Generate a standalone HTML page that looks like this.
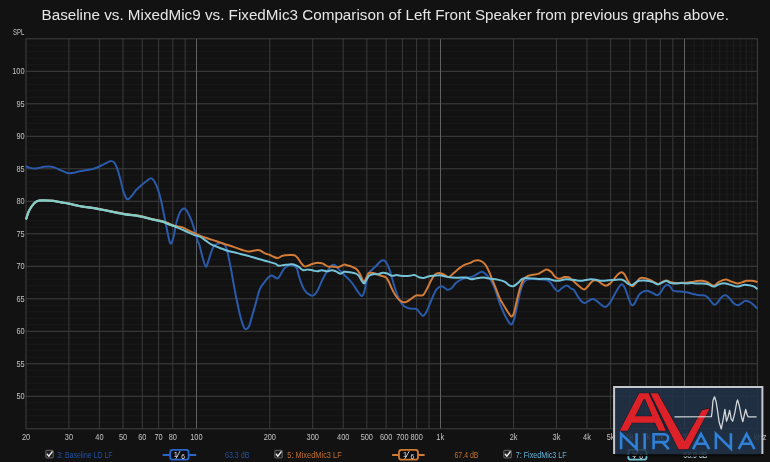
<!DOCTYPE html>
<html><head><meta charset="utf-8"><style>
html,body{margin:0;padding:0;background:#121212;width:770px;height:462px;overflow:hidden}
svg{display:block;will-change:transform}
.ax{font-family:"Liberation Sans",sans-serif;font-size:8.4px;fill:#c4c4c4}
.title{font-family:"Liberation Sans",sans-serif;font-size:15.5px;fill:#e6e6e6}
.lg{font-family:"Liberation Sans",sans-serif;font-size:10px}
</style></head><body>
<svg width="770" height="462" viewBox="0 0 770 462">
<rect width="770" height="462" fill="#121212"/>
<g stroke-width="1">
<line x1="25.99" y1="422.3" x2="757.39" y2="422.3" stroke="#1a1a1a"/>
<line x1="25.99" y1="415.8" x2="757.39" y2="415.8" stroke="#1a1a1a"/>
<line x1="25.99" y1="409.3" x2="757.39" y2="409.3" stroke="#1a1a1a"/>
<line x1="25.99" y1="402.8" x2="757.39" y2="402.8" stroke="#1a1a1a"/>
<line x1="25.99" y1="389.8" x2="757.39" y2="389.8" stroke="#1a1a1a"/>
<line x1="25.99" y1="383.3" x2="757.39" y2="383.3" stroke="#1a1a1a"/>
<line x1="25.99" y1="376.8" x2="757.39" y2="376.8" stroke="#1a1a1a"/>
<line x1="25.99" y1="370.3" x2="757.39" y2="370.3" stroke="#1a1a1a"/>
<line x1="25.99" y1="357.3" x2="757.39" y2="357.3" stroke="#1a1a1a"/>
<line x1="25.99" y1="350.8" x2="757.39" y2="350.8" stroke="#1a1a1a"/>
<line x1="25.99" y1="344.3" x2="757.39" y2="344.3" stroke="#1a1a1a"/>
<line x1="25.99" y1="337.8" x2="757.39" y2="337.8" stroke="#1a1a1a"/>
<line x1="25.99" y1="324.8" x2="757.39" y2="324.8" stroke="#1a1a1a"/>
<line x1="25.99" y1="318.3" x2="757.39" y2="318.3" stroke="#1a1a1a"/>
<line x1="25.99" y1="311.8" x2="757.39" y2="311.8" stroke="#1a1a1a"/>
<line x1="25.99" y1="305.3" x2="757.39" y2="305.3" stroke="#1a1a1a"/>
<line x1="25.99" y1="292.3" x2="757.39" y2="292.3" stroke="#1a1a1a"/>
<line x1="25.99" y1="285.8" x2="757.39" y2="285.8" stroke="#1a1a1a"/>
<line x1="25.99" y1="279.3" x2="757.39" y2="279.3" stroke="#1a1a1a"/>
<line x1="25.99" y1="272.8" x2="757.39" y2="272.8" stroke="#1a1a1a"/>
<line x1="25.99" y1="259.8" x2="757.39" y2="259.8" stroke="#1a1a1a"/>
<line x1="25.99" y1="253.3" x2="757.39" y2="253.3" stroke="#1a1a1a"/>
<line x1="25.99" y1="246.8" x2="757.39" y2="246.8" stroke="#1a1a1a"/>
<line x1="25.99" y1="240.3" x2="757.39" y2="240.3" stroke="#1a1a1a"/>
<line x1="25.99" y1="227.3" x2="757.39" y2="227.3" stroke="#1a1a1a"/>
<line x1="25.99" y1="220.8" x2="757.39" y2="220.8" stroke="#1a1a1a"/>
<line x1="25.99" y1="214.3" x2="757.39" y2="214.3" stroke="#1a1a1a"/>
<line x1="25.99" y1="207.8" x2="757.39" y2="207.8" stroke="#1a1a1a"/>
<line x1="25.99" y1="194.8" x2="757.39" y2="194.8" stroke="#1a1a1a"/>
<line x1="25.99" y1="188.3" x2="757.39" y2="188.3" stroke="#1a1a1a"/>
<line x1="25.99" y1="181.8" x2="757.39" y2="181.8" stroke="#1a1a1a"/>
<line x1="25.99" y1="175.3" x2="757.39" y2="175.3" stroke="#1a1a1a"/>
<line x1="25.99" y1="162.3" x2="757.39" y2="162.3" stroke="#1a1a1a"/>
<line x1="25.99" y1="155.8" x2="757.39" y2="155.8" stroke="#1a1a1a"/>
<line x1="25.99" y1="149.3" x2="757.39" y2="149.3" stroke="#1a1a1a"/>
<line x1="25.99" y1="142.8" x2="757.39" y2="142.8" stroke="#1a1a1a"/>
<line x1="25.99" y1="129.8" x2="757.39" y2="129.8" stroke="#1a1a1a"/>
<line x1="25.99" y1="123.3" x2="757.39" y2="123.3" stroke="#1a1a1a"/>
<line x1="25.99" y1="116.8" x2="757.39" y2="116.8" stroke="#1a1a1a"/>
<line x1="25.99" y1="110.3" x2="757.39" y2="110.3" stroke="#1a1a1a"/>
<line x1="25.99" y1="97.3" x2="757.39" y2="97.3" stroke="#1a1a1a"/>
<line x1="25.99" y1="90.8" x2="757.39" y2="90.8" stroke="#1a1a1a"/>
<line x1="25.99" y1="84.3" x2="757.39" y2="84.3" stroke="#1a1a1a"/>
<line x1="25.99" y1="77.8" x2="757.39" y2="77.8" stroke="#1a1a1a"/>
<line x1="25.99" y1="64.8" x2="757.39" y2="64.8" stroke="#1a1a1a"/>
<line x1="25.99" y1="58.3" x2="757.39" y2="58.3" stroke="#1a1a1a"/>
<line x1="25.99" y1="51.8" x2="757.39" y2="51.8" stroke="#1a1a1a"/>
<line x1="25.99" y1="45.3" x2="757.39" y2="45.3" stroke="#1a1a1a"/>
<line x1="694.09" y1="38.8" x2="694.09" y2="428.8" stroke="#202020"/>
<line x1="703.3" y1="38.8" x2="703.3" y2="428.8" stroke="#202020"/>
<line x1="711.78" y1="38.8" x2="711.78" y2="428.8" stroke="#202020"/>
<line x1="719.63" y1="38.8" x2="719.63" y2="428.8" stroke="#202020"/>
<line x1="726.93" y1="38.8" x2="726.93" y2="428.8" stroke="#202020"/>
<line x1="733.76" y1="38.8" x2="733.76" y2="428.8" stroke="#202020"/>
<line x1="740.18" y1="38.8" x2="740.18" y2="428.8" stroke="#202020"/>
<line x1="746.24" y1="38.8" x2="746.24" y2="428.8" stroke="#202020"/>
<line x1="751.96" y1="38.8" x2="751.96" y2="428.8" stroke="#202020"/>
<line x1="25.99" y1="396.3" x2="757.39" y2="396.3" stroke="#404040"/>
<line x1="25.99" y1="363.8" x2="757.39" y2="363.8" stroke="#404040"/>
<line x1="25.99" y1="331.3" x2="757.39" y2="331.3" stroke="#404040"/>
<line x1="25.99" y1="298.8" x2="757.39" y2="298.8" stroke="#404040"/>
<line x1="25.99" y1="266.3" x2="757.39" y2="266.3" stroke="#404040"/>
<line x1="25.99" y1="233.8" x2="757.39" y2="233.8" stroke="#404040"/>
<line x1="25.99" y1="201.3" x2="757.39" y2="201.3" stroke="#404040"/>
<line x1="25.99" y1="168.8" x2="757.39" y2="168.8" stroke="#404040"/>
<line x1="25.99" y1="136.3" x2="757.39" y2="136.3" stroke="#404040"/>
<line x1="25.99" y1="103.8" x2="757.39" y2="103.8" stroke="#404040"/>
<line x1="25.99" y1="71.3" x2="757.39" y2="71.3" stroke="#404040"/>
<line x1="68.92" y1="38.8" x2="68.92" y2="428.8" stroke="#3a3a3a"/>
<line x1="99.38" y1="38.8" x2="99.38" y2="428.8" stroke="#3a3a3a"/>
<line x1="123.01" y1="38.8" x2="123.01" y2="428.8" stroke="#3a3a3a"/>
<line x1="142.31" y1="38.8" x2="142.31" y2="428.8" stroke="#3a3a3a"/>
<line x1="158.63" y1="38.8" x2="158.63" y2="428.8" stroke="#3a3a3a"/>
<line x1="172.77" y1="38.8" x2="172.77" y2="428.8" stroke="#3a3a3a"/>
<line x1="185.24" y1="38.8" x2="185.24" y2="428.8" stroke="#3a3a3a"/>
<line x1="269.79" y1="38.8" x2="269.79" y2="428.8" stroke="#3a3a3a"/>
<line x1="312.72" y1="38.8" x2="312.72" y2="428.8" stroke="#3a3a3a"/>
<line x1="343.18" y1="38.8" x2="343.18" y2="428.8" stroke="#3a3a3a"/>
<line x1="366.81" y1="38.8" x2="366.81" y2="428.8" stroke="#3a3a3a"/>
<line x1="386.11" y1="38.8" x2="386.11" y2="428.8" stroke="#3a3a3a"/>
<line x1="402.43" y1="38.8" x2="402.43" y2="428.8" stroke="#3a3a3a"/>
<line x1="416.57" y1="38.8" x2="416.57" y2="428.8" stroke="#3a3a3a"/>
<line x1="429.04" y1="38.8" x2="429.04" y2="428.8" stroke="#3a3a3a"/>
<line x1="513.59" y1="38.8" x2="513.59" y2="428.8" stroke="#3a3a3a"/>
<line x1="556.52" y1="38.8" x2="556.52" y2="428.8" stroke="#3a3a3a"/>
<line x1="586.98" y1="38.8" x2="586.98" y2="428.8" stroke="#3a3a3a"/>
<line x1="610.61" y1="38.8" x2="610.61" y2="428.8" stroke="#3a3a3a"/>
<line x1="629.91" y1="38.8" x2="629.91" y2="428.8" stroke="#3a3a3a"/>
<line x1="646.23" y1="38.8" x2="646.23" y2="428.8" stroke="#3a3a3a"/>
<line x1="660.37" y1="38.8" x2="660.37" y2="428.8" stroke="#3a3a3a"/>
<line x1="672.84" y1="38.8" x2="672.84" y2="428.8" stroke="#3a3a3a"/>
<line x1="196.5" y1="38.8" x2="196.5" y2="428.8" stroke="#606060"/>
<line x1="440.5" y1="38.8" x2="440.5" y2="428.8" stroke="#606060"/>
<line x1="684.5" y1="38.8" x2="684.5" y2="428.8" stroke="#606060"/>
<rect x="25.99" y="38.8" width="731.4" height="390.0" fill="none" stroke="#404040"/>
</g>
<text transform="translate(24.6,399.4) scale(0.88,1)" text-anchor="end" class="ax">50</text>
<text transform="translate(24.6,366.9) scale(0.88,1)" text-anchor="end" class="ax">55</text>
<text transform="translate(24.6,334.4) scale(0.88,1)" text-anchor="end" class="ax">60</text>
<text transform="translate(24.6,301.9) scale(0.88,1)" text-anchor="end" class="ax">65</text>
<text transform="translate(24.6,269.4) scale(0.88,1)" text-anchor="end" class="ax">70</text>
<text transform="translate(24.6,236.9) scale(0.88,1)" text-anchor="end" class="ax">75</text>
<text transform="translate(24.6,204.4) scale(0.88,1)" text-anchor="end" class="ax">80</text>
<text transform="translate(24.6,171.9) scale(0.88,1)" text-anchor="end" class="ax">85</text>
<text transform="translate(24.6,139.4) scale(0.88,1)" text-anchor="end" class="ax">90</text>
<text transform="translate(24.6,106.9) scale(0.88,1)" text-anchor="end" class="ax">95</text>
<text transform="translate(24.6,74.4) scale(0.88,1)" text-anchor="end" class="ax">100</text>
<text transform="translate(13,34.6) scale(0.72,1)" class="ax">SPL</text>
<text transform="translate(26.0,439.6) scale(0.88,1)" text-anchor="middle" class="ax">20</text>
<text transform="translate(68.9,439.6) scale(0.88,1)" text-anchor="middle" class="ax">30</text>
<text transform="translate(99.4,439.6) scale(0.88,1)" text-anchor="middle" class="ax">40</text>
<text transform="translate(123.0,439.6) scale(0.88,1)" text-anchor="middle" class="ax">50</text>
<text transform="translate(142.3,439.6) scale(0.88,1)" text-anchor="middle" class="ax">60</text>
<text transform="translate(158.6,439.6) scale(0.88,1)" text-anchor="middle" class="ax">70</text>
<text transform="translate(172.8,439.6) scale(0.88,1)" text-anchor="middle" class="ax">80</text>
<text transform="translate(196.4,439.6) scale(0.88,1)" text-anchor="middle" class="ax">100</text>
<text transform="translate(269.8,439.6) scale(0.88,1)" text-anchor="middle" class="ax">200</text>
<text transform="translate(312.7,439.6) scale(0.88,1)" text-anchor="middle" class="ax">300</text>
<text transform="translate(343.2,439.6) scale(0.88,1)" text-anchor="middle" class="ax">400</text>
<text transform="translate(366.8,439.6) scale(0.88,1)" text-anchor="middle" class="ax">500</text>
<text transform="translate(386.1,439.6) scale(0.88,1)" text-anchor="middle" class="ax">600</text>
<text transform="translate(402.4,439.6) scale(0.88,1)" text-anchor="middle" class="ax">700</text>
<text transform="translate(416.6,439.6) scale(0.88,1)" text-anchor="middle" class="ax">800</text>
<text transform="translate(440.2,439.6) scale(0.88,1)" text-anchor="middle" class="ax">1k</text>
<text transform="translate(513.6,439.6) scale(0.88,1)" text-anchor="middle" class="ax">2k</text>
<text transform="translate(556.5,439.6) scale(0.88,1)" text-anchor="middle" class="ax">3k</text>
<text transform="translate(587.0,439.6) scale(0.88,1)" text-anchor="middle" class="ax">4k</text>
<text transform="translate(610.6,439.6) scale(0.88,1)" text-anchor="middle" class="ax">5k</text>
<text transform="translate(629.9,439.6) scale(0.88,1)" text-anchor="middle" class="ax">6k</text>
<text transform="translate(646.2,439.6) scale(0.88,1)" text-anchor="middle" class="ax">7k</text>
<text transform="translate(660.4,439.6) scale(0.88,1)" text-anchor="middle" class="ax">8k</text>
<text transform="translate(684.0,439.6) scale(0.88,1)" text-anchor="middle" class="ax">10k</text>
<text transform="translate(760,439.6) scale(0.88,1)" text-anchor="middle" class="ax">kHz</text>
<text x="41.5" y="19.7" class="title" textLength="687.5" lengthAdjust="spacingAndGlyphs">Baseline vs. MixedMic9 vs. FixedMic3 Comparison of Left Front Speaker from previous graphs above.</text>
<g fill="none" stroke-width="2" stroke-linejoin="round" stroke-linecap="round">
<path d="M26.3,166.4 C26.9,166.7 28.7,167.5 30.1,167.9 C31.5,168.3 33.1,168.6 34.6,168.6 C36.1,168.6 37.7,168.2 39.2,167.9 C40.7,167.6 42.1,167.1 43.7,166.8 C45.3,166.6 47.2,166.3 49.0,166.4 C50.8,166.5 52.4,166.8 54.3,167.4 C56.2,168.0 58.4,169.3 60.4,170.2 C62.4,171.1 64.9,172.2 66.4,172.7 C67.9,173.2 68.2,173.2 69.5,173.2 C70.8,173.2 72.2,173.0 74.0,172.7 C75.8,172.4 77.7,171.6 80.0,171.2 C82.3,170.8 85.1,170.5 87.6,170.0 C90.1,169.5 92.7,169.1 95.2,168.2 C97.7,167.3 100.6,165.8 102.7,164.8 C104.8,163.8 106.6,162.7 108.0,162.1 C109.4,161.5 110.0,161.0 111.0,161.1 C112.0,161.2 113.1,161.2 114.1,162.4 C115.1,163.6 116.1,165.5 117.1,168.2 C118.1,170.9 119.2,175.0 120.2,178.8 C121.2,182.6 122.2,187.7 123.2,190.9 C124.2,194.1 125.4,196.8 126.2,198.2 C127.0,199.6 127.3,199.5 128.2,199.2 C129.1,198.9 130.2,197.7 131.5,196.2 C132.8,194.7 134.6,191.8 136.0,190.2 C137.4,188.6 138.9,187.4 140.0,186.4 C141.1,185.4 141.6,184.9 142.8,183.9 C144.0,182.9 145.8,181.6 147.1,180.7 C148.4,179.8 149.8,178.3 150.9,178.3 C152.1,178.3 152.9,179.0 154.0,180.7 C155.1,182.3 156.3,184.9 157.5,188.2 C158.7,191.5 159.8,195.5 161.0,200.3 C162.2,205.1 163.2,211.2 164.4,216.8 C165.6,222.4 166.9,229.6 167.9,234.1 C168.9,238.6 169.6,243.0 170.5,243.6 C171.4,244.2 172.4,241.1 173.4,237.5 C174.4,233.9 175.4,226.3 176.6,222.0 C177.8,217.7 179.1,213.9 180.4,211.6 C181.7,209.3 183.2,208.3 184.4,208.4 C185.6,208.5 186.7,210.4 187.8,212.4 C189.0,214.4 190.2,217.2 191.3,220.2 C192.5,223.2 193.6,227.1 194.7,230.6 C195.8,234.1 196.9,238.7 197.7,241.0 C198.5,243.3 198.5,241.8 199.3,244.5 C200.1,247.2 201.5,253.8 202.6,257.5 C203.7,261.2 204.8,266.2 205.8,266.7 C206.8,267.2 207.6,263.1 208.5,260.7 C209.4,258.3 210.3,254.5 211.2,252.1 C212.1,249.7 212.8,247.5 213.9,246.1 C215.0,244.7 216.4,244.4 217.7,243.9 C219.0,243.4 220.3,242.7 221.5,242.9 C222.7,243.1 223.9,243.8 224.8,245.0 C225.7,246.2 226.2,247.5 226.9,249.9 C227.6,252.3 228.4,256.2 229.1,259.6 C229.8,263.0 230.5,266.4 231.3,270.5 C232.1,274.6 232.7,279.2 233.7,284.4 C234.7,289.6 235.9,296.3 237.1,301.8 C238.2,307.3 239.4,313.0 240.6,317.3 C241.8,321.6 243.1,325.7 244.0,327.7 C244.9,329.7 245.2,329.4 246.1,329.1 C247.0,328.8 248.1,328.5 249.2,326.0 C250.3,323.5 251.5,317.9 252.7,313.9 C253.9,309.9 255.0,305.9 256.2,301.8 C257.4,297.8 258.3,292.8 259.6,289.6 C260.9,286.4 262.6,284.7 264.0,282.7 C265.4,280.7 267.0,278.7 268.3,277.5 C269.6,276.3 270.7,275.4 271.8,275.4 C272.9,275.4 274.2,277.0 275.2,277.5 C276.2,278.0 276.9,278.8 277.8,278.4 C278.7,278.0 279.4,276.5 280.4,274.9 C281.4,273.3 282.8,270.3 283.9,268.9 C285.0,267.5 286.4,266.9 287.3,266.3 C288.2,265.7 288.2,265.4 289.3,265.3 C290.4,265.2 292.4,265.3 293.7,265.8 C295.0,266.3 296.1,266.9 296.9,268.5 C297.7,270.1 298.0,273.2 298.7,275.4 C299.4,277.6 300.0,279.7 300.8,281.9 C301.6,284.1 302.6,286.7 303.5,288.4 C304.4,290.1 305.2,291.1 306.2,292.2 C307.2,293.2 308.5,294.1 309.5,294.7 C310.5,295.3 311.3,295.9 312.2,295.8 C313.1,295.8 313.9,295.4 314.9,294.4 C315.9,293.3 317.0,291.6 318.1,289.5 C319.2,287.4 320.3,284.2 321.4,281.9 C322.5,279.5 323.5,277.4 324.6,275.4 C325.8,273.3 327.0,271.4 328.3,269.6 C329.6,267.8 331.3,265.4 332.6,264.8 C333.9,264.2 334.8,265.0 335.9,265.8 C337.0,266.6 337.9,268.2 339.1,269.6 C340.4,271.0 341.9,272.6 343.4,274.0 C344.8,275.4 346.4,276.8 347.8,278.3 C349.2,279.8 350.6,280.9 352.1,283.0 C353.7,285.1 355.7,288.6 357.1,290.6 C358.5,292.6 359.4,294.0 360.3,294.9 C361.2,295.8 361.6,296.5 362.3,295.8 C363.0,295.1 363.8,293.5 364.5,290.9 C365.2,288.3 366.0,283.3 366.8,280.3 C367.6,277.3 368.2,274.5 369.1,272.7 C370.0,270.9 370.8,270.9 372.1,269.7 C373.4,268.4 375.3,266.6 376.7,265.2 C378.1,263.8 379.4,262.2 380.5,261.4 C381.6,260.6 382.5,260.1 383.5,260.3 C384.5,260.6 385.5,261.3 386.5,262.9 C387.5,264.5 388.5,266.8 389.5,269.7 C390.5,272.6 391.6,276.9 392.6,280.3 C393.6,283.7 394.5,286.9 395.6,290.2 C396.7,293.5 398.0,297.4 399.4,300.0 C400.8,302.6 402.4,304.7 403.9,306.1 C405.4,307.5 407.0,307.9 408.5,308.3 C410.0,308.8 411.6,308.7 413.0,308.8 C414.4,308.9 415.7,308.4 416.8,309.1 C417.9,309.8 418.8,311.8 419.8,312.9 C420.8,314.0 421.9,315.9 422.9,315.9 C423.9,315.9 424.9,314.5 425.9,312.9 C426.9,311.3 427.8,308.8 428.9,306.1 C430.0,303.5 431.4,299.8 432.7,297.0 C434.0,294.2 435.0,291.2 436.5,289.4 C438.0,287.6 440.1,286.1 441.9,286.2 C443.7,286.2 445.5,289.3 447.1,289.7 C448.7,290.1 450.1,289.4 451.5,288.3 C452.9,287.2 454.2,284.6 455.8,283.1 C457.4,281.7 459.3,280.5 461.0,279.6 C462.7,278.7 464.5,278.3 466.2,277.9 C467.9,277.5 469.7,277.6 471.4,277.0 C473.1,276.4 474.9,275.3 476.6,274.4 C478.3,273.5 480.2,271.8 481.8,271.8 C483.4,271.8 484.7,273.1 486.1,274.4 C487.5,275.7 489.0,277.3 490.4,279.6 C491.8,281.9 493.3,284.9 494.7,288.3 C496.1,291.7 497.3,296.4 498.5,299.8 C499.7,303.2 500.8,305.8 501.9,308.5 C503.0,311.2 504.2,314.0 505.4,316.3 C506.6,318.6 507.9,321.0 508.9,322.3 C509.9,323.6 510.6,324.8 511.5,324.4 C512.4,324.0 513.1,322.3 514.0,319.7 C514.9,317.1 515.7,312.4 516.6,308.5 C517.5,304.6 518.3,300.0 519.2,296.4 C520.1,292.8 520.9,289.3 521.8,286.8 C522.7,284.3 523.4,282.8 524.4,281.6 C525.4,280.4 526.4,279.8 527.9,279.4 C529.4,279.0 531.1,279.0 533.1,279.0 C535.1,279.0 537.8,279.2 540.0,279.4 C542.2,279.5 544.4,279.4 546.1,279.9 C547.8,280.4 549.0,281.1 550.4,282.5 C551.8,283.9 553.4,287.2 554.7,288.6 C556.0,290.1 556.9,291.4 558.2,291.2 C559.5,291.0 561.0,288.6 562.5,287.7 C564.0,286.8 565.4,285.5 566.9,285.6 C568.4,285.8 570.0,287.9 571.2,288.6 C572.4,289.3 572.8,288.6 573.9,289.9 C575.0,291.2 576.5,294.4 577.8,296.4 C579.1,298.3 580.5,300.5 581.7,301.6 C582.9,302.7 583.7,303.0 584.9,302.9 C586.1,302.8 587.5,301.5 588.8,300.9 C590.1,300.2 591.4,299.0 592.7,299.0 C594.0,299.0 595.2,299.9 596.6,300.9 C598.0,301.9 599.8,303.8 601.2,304.8 C602.6,305.8 603.8,307.1 605.1,307.0 C606.4,306.9 607.7,305.8 609.0,304.2 C610.3,302.6 611.6,300.0 612.9,297.7 C614.2,295.4 615.5,292.6 616.8,290.5 C618.1,288.4 619.6,285.9 620.6,284.9 C621.6,283.9 621.8,284.1 622.6,284.7 C623.4,285.3 624.2,286.4 625.2,288.6 C626.2,290.8 627.4,295.1 628.4,297.7 C629.4,300.3 630.2,302.9 631.0,304.2 C631.8,305.4 632.2,305.6 633.0,305.2 C633.8,304.8 634.6,303.3 635.6,301.6 C636.6,299.9 637.6,296.7 638.8,295.1 C640.0,293.5 641.4,292.5 642.7,291.8 C644.0,291.1 645.6,290.9 646.6,290.8 C647.6,290.7 647.9,290.8 648.9,291.2 C649.9,291.6 651.4,292.4 652.8,293.1 C654.2,293.8 656.0,295.4 657.3,295.3 C658.6,295.2 659.5,293.8 660.6,292.5 C661.7,291.2 662.7,288.6 663.8,287.3 C664.9,286.0 666.0,284.8 667.1,284.7 C668.2,284.6 669.3,285.6 670.3,286.6 C671.3,287.6 671.7,289.7 672.9,290.5 C674.1,291.3 675.9,291.2 677.5,291.4 C679.1,291.6 681.0,291.6 682.7,291.8 C684.4,292.0 686.2,292.1 687.9,292.5 C689.6,292.9 691.4,293.6 693.1,294.0 C694.8,294.4 696.5,294.9 698.2,295.1 C699.9,295.3 701.9,295.0 703.4,295.3 C704.9,295.6 706.0,295.9 707.3,297.0 C708.6,298.1 710.0,300.3 711.2,301.6 C712.4,302.9 713.4,304.7 714.5,304.8 C715.6,304.9 716.6,303.5 717.8,302.2 C719.0,300.9 720.4,298.1 721.7,297.0 C723.0,295.9 724.3,295.1 725.6,295.3 C726.9,295.5 728.2,297.0 729.5,298.3 C730.8,299.6 732.1,301.8 733.4,302.9 C734.7,304.0 736.0,305.1 737.3,305.2 C738.6,305.3 739.9,304.2 741.2,303.5 C742.5,302.8 743.8,301.2 745.1,300.9 C746.4,300.6 747.7,301.1 749.0,301.6 C750.3,302.2 751.6,303.1 752.9,304.2 C754.2,305.3 756.1,307.5 756.8,308.1" stroke="#2a5aaa"/>
<path d="M26.3,218.6 C26.7,217.5 27.6,214.0 28.5,212.0 C29.4,210.0 30.5,208.1 31.6,206.5 C32.8,204.9 34.1,203.2 35.4,202.2 C36.7,201.2 37.3,200.9 39.2,200.6 C41.1,200.3 44.4,200.5 46.7,200.5 C49.0,200.5 50.5,200.5 52.8,200.8 C55.1,201.1 57.6,201.7 60.4,202.2 C63.2,202.7 66.7,203.2 69.5,203.8 C72.3,204.4 74.6,205.0 77.0,205.5 C79.4,206.0 81.0,206.3 84.0,206.8 C87.0,207.3 90.8,207.6 95.2,208.3 C99.6,209.0 105.2,210.2 110.3,211.2 C115.3,212.1 121.4,213.4 125.5,214.0 C129.6,214.6 132.0,214.6 135.0,215.0 C138.0,215.4 140.8,216.0 143.7,216.7 C146.6,217.4 149.1,218.2 152.3,219.0 C155.5,219.8 159.8,220.4 162.7,221.2 C165.6,222.0 167.3,223.0 169.6,223.8 C171.9,224.7 174.6,225.8 176.6,226.3 C178.6,226.9 180.1,226.5 181.8,227.1 C183.5,227.7 184.7,228.6 187.0,229.7 C189.3,230.8 193.4,232.7 195.6,233.7 C197.8,234.7 198.7,235.1 200.4,235.8 C202.1,236.5 204.0,237.2 205.8,237.8 C207.6,238.4 209.4,239.0 211.2,239.6 C213.0,240.2 214.8,240.6 216.6,241.2 C218.4,241.8 220.3,242.6 222.1,243.2 C223.9,243.8 225.7,244.4 227.5,245.0 C229.3,245.6 231.1,246.0 232.9,246.6 C234.7,247.2 236.5,248.0 238.3,248.6 C240.1,249.2 242.1,249.9 243.7,250.4 C245.3,250.9 246.6,251.4 248.0,251.5 C249.4,251.6 250.8,251.2 252.4,251.0 C254.0,250.8 256.4,250.0 257.8,250.0 C259.2,250.0 259.8,250.2 261.0,250.8 C262.2,251.4 263.5,252.7 265.0,253.4 C266.5,254.1 268.7,254.5 270.0,255.0 C271.3,255.5 271.7,256.0 273.0,256.5 C274.3,257.0 276.3,258.2 277.8,258.1 C279.3,258.0 280.9,256.4 282.1,255.9 C283.3,255.4 283.8,255.5 285.0,255.3 C286.2,255.2 287.7,255.0 289.3,255.0 C290.9,255.0 293.2,254.8 294.7,255.3 C296.1,255.9 296.9,257.0 298.0,258.3 C299.1,259.6 300.1,261.8 301.2,263.1 C302.3,264.5 303.4,265.9 304.5,266.4 C305.6,266.8 306.4,266.2 307.7,265.8 C309.0,265.4 310.7,264.5 312.1,264.0 C313.6,263.5 314.8,263.0 316.4,262.9 C318.0,262.8 320.4,263.0 321.8,263.3 C323.2,263.6 323.9,264.2 325.0,264.8 C326.1,265.4 327.0,266.3 328.3,266.6 C329.6,266.9 331.2,266.3 332.6,266.4 C334.1,266.5 335.7,267.3 337.0,267.3 C338.3,267.3 338.9,266.8 340.2,266.4 C341.4,265.9 343.2,264.8 344.5,264.6 C345.8,264.5 346.5,265.1 347.8,265.5 C349.1,265.9 350.7,266.3 352.1,266.9 C353.5,267.5 355.1,268.0 356.4,269.1 C357.7,270.2 358.7,271.7 359.7,273.5 C360.7,275.3 361.8,278.3 362.5,279.7 C363.2,281.1 363.5,282.2 364.1,281.9 C364.7,281.5 365.6,279.1 366.3,277.6 C367.0,276.2 367.8,274.0 368.5,273.2 C369.2,272.4 369.5,272.6 370.6,272.7 C371.7,272.8 373.4,273.0 375.2,273.5 C377.0,274.0 379.4,275.2 381.2,275.8 C383.0,276.4 384.5,276.3 385.8,277.3 C387.1,278.3 387.8,279.9 388.8,281.8 C389.8,283.7 390.7,286.3 391.8,288.6 C392.9,290.9 394.3,293.6 395.6,295.5 C396.9,297.4 398.1,298.9 399.4,300.0 C400.7,301.1 401.9,302.1 403.2,302.3 C404.5,302.6 405.6,302.1 407.0,301.5 C408.4,300.9 410.0,299.5 411.5,298.5 C413.0,297.5 414.6,296.0 416.1,295.5 C417.6,295.0 419.4,295.6 420.6,295.5 C421.9,295.4 422.5,296.0 423.6,294.7 C424.7,293.4 426.1,290.3 427.4,287.9 C428.7,285.5 429.9,282.6 431.2,280.3 C432.5,278.1 433.6,275.6 435.0,274.4 C436.4,273.2 437.9,273.1 439.3,273.1 C440.8,273.1 442.1,273.8 443.7,274.4 C445.3,275.0 447.2,277.3 448.9,277.0 C450.6,276.7 452.3,274.1 454.0,272.7 C455.7,271.3 457.5,269.7 459.2,268.4 C460.9,267.1 462.7,265.8 464.4,264.9 C466.1,264.0 468.0,263.9 469.6,263.2 C471.2,262.5 472.6,261.4 474.0,260.9 C475.4,260.4 476.9,260.0 478.3,260.2 C479.7,260.4 481.3,261.1 482.6,262.0 C483.9,262.9 485.0,264.0 486.1,265.8 C487.2,267.6 488.4,270.1 489.5,272.7 C490.6,275.3 491.8,278.5 493.0,281.4 C494.2,284.3 495.4,287.1 496.5,290.0 C497.6,292.9 498.8,296.2 499.9,298.7 C501.0,301.1 502.1,302.5 503.4,304.7 C504.7,306.9 506.4,309.7 507.7,311.7 C509.0,313.7 510.2,316.2 511.2,316.5 C512.2,316.8 512.9,315.9 513.8,313.4 C514.7,310.9 515.5,305.9 516.6,301.6 C517.7,297.3 518.9,291.4 520.1,287.7 C521.3,284.0 522.3,281.4 523.6,279.4 C524.9,277.4 526.3,276.7 527.9,275.9 C529.5,275.1 531.4,275.0 533.1,274.7 C534.8,274.4 536.7,274.5 538.3,273.9 C539.9,273.3 541.1,272.0 542.6,271.3 C544.1,270.6 545.5,269.4 547.0,269.5 C548.5,269.6 549.9,270.8 551.3,272.1 C552.7,273.4 554.2,276.2 555.6,277.3 C557.0,278.4 558.5,278.8 559.9,278.7 C561.3,278.6 562.8,277.2 564.3,277.0 C565.8,276.8 567.3,276.8 568.6,277.3 C569.9,277.8 571.0,279.0 572.1,279.9 C573.2,280.8 573.8,281.5 575.2,282.7 C576.6,283.9 578.9,286.1 580.4,287.3 C581.9,288.5 583.0,289.8 584.3,289.6 C585.6,289.4 586.8,287.5 588.2,286.0 C589.6,284.5 591.2,281.7 592.7,280.8 C594.2,279.9 595.9,280.1 597.3,280.5 C598.7,280.9 599.8,282.5 601.2,283.4 C602.6,284.3 604.2,285.7 605.7,285.7 C607.2,285.7 608.9,284.5 610.3,283.4 C611.7,282.2 612.9,280.3 614.2,278.8 C615.5,277.3 616.9,275.4 618.1,274.3 C619.3,273.2 620.2,272.3 621.3,272.3 C622.4,272.3 623.4,272.9 624.5,274.3 C625.6,275.7 626.7,279.0 627.8,280.8 C628.9,282.6 630.1,284.4 631.0,285.3 C631.9,286.2 632.1,286.6 633.0,286.2 C633.9,285.8 635.0,284.0 636.2,282.7 C637.4,281.4 638.7,278.9 640.1,278.2 C641.5,277.4 643.2,278.0 644.7,278.2 C646.2,278.4 647.5,279.0 648.9,279.5 C650.2,280.0 651.3,280.6 652.8,281.4 C654.3,282.1 656.5,283.9 658.0,284.0 C659.5,284.1 660.5,282.7 661.9,282.1 C663.3,281.5 664.9,280.5 666.4,280.5 C667.9,280.5 669.3,281.9 670.9,282.3 C672.5,282.7 674.5,283.0 676.2,283.1 C678.0,283.2 679.7,282.8 681.4,282.7 C683.1,282.6 684.9,282.8 686.6,282.7 C688.3,282.6 690.1,282.4 691.8,282.1 C693.5,281.8 695.2,281.2 696.9,281.0 C698.6,280.8 700.4,280.6 702.1,280.8 C703.8,281.0 705.8,281.5 707.3,282.1 C708.8,282.8 710.0,284.1 711.2,284.7 C712.4,285.3 713.2,286.0 714.5,285.5 C715.8,285.0 717.2,282.8 719.1,281.8 C721.0,280.8 723.7,279.6 725.6,279.5 C727.5,279.4 728.8,280.8 730.8,281.4 C732.8,282.0 735.3,283.3 737.3,283.4 C739.2,283.5 741.0,282.5 742.5,282.1 C744.0,281.7 744.9,281.0 746.4,280.8 C747.9,280.6 749.9,280.6 751.6,280.8 C753.3,281.0 755.9,281.6 756.8,281.8" stroke="#d27c38"/>
<path d="M26.3,218.6 C26.7,217.5 27.6,214.0 28.5,212.0 C29.4,210.0 30.5,208.1 31.6,206.5 C32.8,204.9 34.1,203.2 35.4,202.2 C36.7,201.2 37.3,200.9 39.2,200.6 C41.1,200.3 44.4,200.5 46.7,200.5 C49.0,200.5 50.5,200.5 52.8,200.8 C55.1,201.1 57.6,201.7 60.4,202.2 C63.2,202.7 66.7,203.2 69.5,203.8 C72.3,204.4 74.6,205.0 77.0,205.5 C79.4,206.0 81.0,206.3 84.0,206.8 C87.0,207.3 90.8,207.5 95.2,208.3 C99.6,209.1 105.2,210.4 110.3,211.4 C115.3,212.4 121.4,213.7 125.5,214.4 C129.6,215.1 132.0,215.0 135.0,215.4 C138.0,215.8 140.8,216.4 143.7,217.1 C146.6,217.8 149.1,218.7 152.3,219.4 C155.5,220.2 159.8,220.8 162.7,221.6 C165.6,222.4 167.3,223.6 169.6,224.5 C171.9,225.4 174.0,226.0 176.6,227.1 C179.2,228.2 182.3,229.7 185.2,231.0 C188.1,232.3 191.4,233.9 193.9,234.9 C196.4,235.9 198.4,235.9 200.4,236.9 C202.4,237.9 204.0,239.5 205.8,240.7 C207.6,241.9 209.4,243.3 211.2,244.3 C213.0,245.3 214.8,245.8 216.6,246.6 C218.4,247.3 220.3,248.1 222.1,248.8 C223.9,249.5 225.7,250.2 227.5,250.8 C229.3,251.4 231.1,251.7 232.9,252.1 C234.7,252.5 236.5,252.9 238.3,253.4 C240.1,253.9 241.6,254.2 243.7,254.8 C245.8,255.4 248.3,255.9 251.0,256.7 C253.7,257.4 256.7,258.5 259.6,259.3 C262.5,260.1 265.7,260.9 268.3,261.6 C270.9,262.3 273.5,263.0 275.2,263.7 C276.9,264.4 277.2,265.5 278.7,265.7 C280.1,265.9 282.1,265.2 283.9,265.0 C285.7,264.8 287.7,264.5 289.3,264.4 C290.9,264.3 292.2,264.1 293.7,264.4 C295.1,264.7 296.4,265.4 298.0,266.4 C299.6,267.4 301.8,269.7 303.4,270.2 C305.0,270.7 306.1,269.3 307.7,269.4 C309.3,269.4 311.5,270.2 313.1,270.5 C314.7,270.8 316.1,271.4 317.5,271.3 C318.9,271.2 320.2,270.2 321.8,270.2 C323.4,270.2 325.6,271.3 327.2,271.3 C328.8,271.3 330.1,270.2 331.5,270.2 C332.9,270.2 334.4,270.7 335.9,271.3 C337.3,271.9 338.8,273.6 340.2,273.7 C341.6,273.8 342.9,272.0 344.5,271.8 C346.1,271.6 348.1,272.0 349.9,272.3 C351.7,272.6 353.9,272.8 355.3,273.4 C356.8,273.9 357.5,274.3 358.6,275.6 C359.7,276.9 360.9,279.7 361.8,281.0 C362.7,282.3 363.4,283.6 364.1,283.5 C364.8,283.4 365.3,281.6 366.1,280.3 C366.9,279.0 367.9,276.8 369.1,275.8 C370.4,274.8 372.1,274.5 373.6,274.2 C375.1,273.9 376.7,274.4 378.2,274.2 C379.7,273.9 381.2,272.8 382.7,272.7 C384.2,272.6 385.8,273.0 387.3,273.5 C388.8,274.0 390.3,275.6 391.8,275.8 C393.3,276.1 394.9,275.0 396.4,275.0 C397.9,275.0 399.4,275.6 400.9,275.8 C402.4,276.0 404.0,276.1 405.5,276.1 C407.0,276.1 408.5,276.0 410.0,275.8 C411.5,275.6 413.0,274.8 414.5,275.0 C416.0,275.2 417.6,276.8 419.1,277.3 C420.6,277.8 422.1,278.1 423.6,278.0 C425.1,277.9 426.7,276.9 428.2,276.5 C429.7,276.1 430.7,276.0 432.7,275.8 C434.7,275.6 438.1,275.2 440.2,275.3 C442.3,275.4 443.4,276.1 445.4,276.5 C447.4,276.9 449.7,277.4 452.3,277.6 C454.9,277.8 458.7,277.6 461.0,277.6 C463.3,277.6 464.5,277.3 466.2,277.6 C467.9,277.9 469.7,279.2 471.4,279.3 C473.1,279.4 474.6,278.5 476.6,278.2 C478.6,277.9 481.2,277.5 483.5,277.6 C485.8,277.7 488.1,278.5 490.4,278.8 C492.7,279.1 494.9,279.1 497.3,279.6 C499.7,280.1 502.6,280.7 504.5,281.6 C506.4,282.5 507.4,284.3 508.9,285.1 C510.3,285.9 511.8,286.6 513.2,286.3 C514.6,286.0 515.9,284.7 517.5,283.4 C519.1,282.1 520.7,279.6 522.7,278.7 C524.7,277.8 527.0,278.1 529.6,278.2 C532.2,278.2 535.4,278.9 538.3,279.0 C541.2,279.1 544.4,278.5 547.0,278.7 C549.6,278.9 551.9,280.0 553.9,280.4 C555.9,280.8 557.4,281.0 559.1,280.8 C560.8,280.6 562.6,279.6 564.3,279.4 C566.0,279.2 567.7,279.3 569.5,279.4 C571.3,279.5 573.4,279.9 575.2,280.1 C577.0,280.3 578.7,280.8 580.4,280.8 C582.1,280.8 583.9,280.4 585.6,280.1 C587.3,279.8 589.1,279.3 590.8,279.2 C592.5,279.1 594.3,279.4 596.0,279.7 C597.7,280.0 599.5,280.7 601.2,280.8 C602.9,280.9 604.7,280.6 606.4,280.5 C608.1,280.4 609.9,280.2 611.6,280.1 C613.3,280.0 615.2,279.8 616.8,279.7 C618.4,279.6 620.0,279.3 621.3,279.5 C622.6,279.7 623.3,280.1 624.5,280.8 C625.7,281.6 627.2,283.2 628.4,284.0 C629.6,284.8 630.6,285.4 631.7,285.3 C632.8,285.2 633.7,283.9 634.9,283.1 C636.1,282.4 637.3,281.2 638.8,280.8 C640.3,280.4 642.3,280.5 644.0,280.5 C645.7,280.5 647.4,280.7 648.9,281.0 C650.4,281.3 651.3,281.5 652.8,282.1 C654.3,282.7 656.5,284.3 658.0,284.4 C659.5,284.5 660.5,283.3 661.9,282.7 C663.3,282.1 664.9,280.9 666.4,281.0 C667.9,281.1 669.3,282.7 670.9,283.1 C672.5,283.5 674.5,283.6 676.2,283.6 C678.0,283.6 679.7,283.1 681.4,283.1 C683.1,283.1 684.9,283.4 686.6,283.4 C688.3,283.4 690.1,283.1 691.8,283.1 C693.5,283.1 695.2,283.6 696.9,283.6 C698.6,283.7 700.4,283.3 702.1,283.4 C703.8,283.5 705.8,283.6 707.3,284.0 C708.8,284.4 710.0,285.3 711.2,285.7 C712.4,286.1 713.4,286.7 714.5,286.6 C715.6,286.5 716.5,285.4 717.7,284.9 C718.9,284.4 720.3,283.9 721.6,283.6 C722.9,283.4 724.1,283.2 725.6,283.4 C727.1,283.6 728.8,284.4 730.8,284.9 C732.8,285.4 735.1,286.6 737.3,286.6 C739.5,286.6 741.8,285.1 743.8,284.9 C745.8,284.7 747.3,285.0 749.0,285.3 C750.7,285.6 752.9,286.1 754.2,286.6 C755.5,287.2 756.4,288.3 756.8,288.6" stroke="#74c2d8"/>
<path d="M26.3,218.6 C26.7,217.5 27.6,214.0 28.5,212.0 C29.4,210.0 30.5,208.1 31.6,206.5 C32.8,204.9 34.1,203.2 35.4,202.2 C36.7,201.2 37.3,200.9 39.2,200.6 C41.1,200.3 44.4,200.5 46.7,200.5 C49.0,200.5 50.5,200.5 52.8,200.8 C55.1,201.1 57.6,201.7 60.4,202.2 C63.2,202.7 66.7,203.2 69.5,203.8 C72.3,204.4 74.6,205.0 77.0,205.5 C79.4,206.0 81.0,206.3 84.0,206.8 C87.0,207.3 90.8,207.5 95.2,208.3 C99.6,209.1 105.2,210.4 110.3,211.4 C115.3,212.4 121.4,213.7 125.5,214.4 C129.6,215.1 132.0,215.0 135.0,215.4 C138.0,215.8 140.8,216.4 143.7,217.1 C146.6,217.8 149.1,218.7 152.3,219.4 C155.5,220.2 159.8,220.8 162.7,221.6 C165.6,222.4 167.3,223.6 169.6,224.5 C171.9,225.4 174.0,226.0 176.6,227.1" stroke="#86ccc6" stroke-width="2.2"/>
</g>
<g><rect x="45.8" y="450.3" width="7.5" height="7.5" rx="1" fill="#1e1e1e" stroke="#575757" stroke-width="1.2"/><path d="M47.3,454.3 L48.9,456.2 L52.099999999999994,451.8" fill="none" stroke="#f0f0f0" stroke-width="1.4" stroke-linecap="round" stroke-linejoin="round"/><text x="57.2" y="457.6" font-size="8.6" fill="#22519f" font-family="Liberation Sans, sans-serif" textLength="55.4" lengthAdjust="spacingAndGlyphs">3: Baseline LD LF</text><line x1="162.6" y1="455" x2="196.2" y2="455" stroke="#2a66c8" stroke-width="2"/><rect x="170.2" y="449.9" width="18.400000000000006" height="9.8" rx="2.5" fill="#0c0c12" stroke="#2a66c8" stroke-width="1.8"/><text x="173.79999999999998" y="456.8" font-size="7.5" fill="#e0e0e0" font-family="Liberation Sans, sans-serif">1</text><line x1="175.79999999999998" y1="458.8" x2="180.09999999999997" y2="451.2" stroke="#e0e0e0" stroke-width="0.9"/><text x="181.29999999999998" y="459.1" font-size="6.6" fill="#e0e0e0" font-family="Liberation Sans, sans-serif">6</text><text x="225" y="457.6" font-size="8.6" fill="#22519f" font-family="Liberation Sans, sans-serif" textLength="24.4" lengthAdjust="spacingAndGlyphs">63.3 dB</text><rect x="274.8" y="450.3" width="7.5" height="7.5" rx="1" fill="#1e1e1e" stroke="#575757" stroke-width="1.2"/><path d="M276.3,454.3 L277.90000000000003,456.2 L281.1,451.8" fill="none" stroke="#f0f0f0" stroke-width="1.4" stroke-linecap="round" stroke-linejoin="round"/><text x="287.3" y="457.6" font-size="8.6" fill="#c0702e" font-family="Liberation Sans, sans-serif" textLength="54.4" lengthAdjust="spacingAndGlyphs">5: MixedMic3 LF</text><line x1="392.1" y1="455" x2="424.6" y2="455" stroke="#d07a30" stroke-width="2"/><rect x="399" y="449.9" width="19" height="9.8" rx="2.5" fill="#0c0c12" stroke="#d07a30" stroke-width="1.8"/><text x="402.9" y="456.8" font-size="7.5" fill="#e0e0e0" font-family="Liberation Sans, sans-serif">1</text><line x1="404.9" y1="458.8" x2="409.2" y2="451.2" stroke="#e0e0e0" stroke-width="0.9"/><text x="410.4" y="459.1" font-size="6.6" fill="#e0e0e0" font-family="Liberation Sans, sans-serif">6</text><text x="454.5" y="457.6" font-size="8.6" fill="#c0702e" font-family="Liberation Sans, sans-serif" textLength="24" lengthAdjust="spacingAndGlyphs">67.4 dB</text><rect x="503.8" y="450.3" width="7.5" height="7.5" rx="1" fill="#1e1e1e" stroke="#575757" stroke-width="1.2"/><path d="M505.3,454.3 L506.90000000000003,456.2 L510.1,451.8" fill="none" stroke="#f0f0f0" stroke-width="1.4" stroke-linecap="round" stroke-linejoin="round"/><text x="515.8" y="457.6" font-size="8.6" fill="#64b4dc" font-family="Liberation Sans, sans-serif" textLength="50.9" lengthAdjust="spacingAndGlyphs">7: FixedMic3 LF</text><line x1="627.3" y1="455" x2="647.5" y2="455" stroke="#70c4d4" stroke-width="2"/><rect x="628.3" y="449.9" width="18.200000000000045" height="9.8" rx="2.5" fill="#0c0c12" stroke="#70c4d4" stroke-width="1.8"/><text x="631.8" y="456.8" font-size="7.5" fill="#e0e0e0" font-family="Liberation Sans, sans-serif">1</text><line x1="633.8" y1="458.8" x2="638.1" y2="451.2" stroke="#e0e0e0" stroke-width="0.9"/><text x="639.3" y="459.1" font-size="6.6" fill="#e0e0e0" font-family="Liberation Sans, sans-serif">6</text><text x="683.3" y="457.6" font-size="8.6" fill="#c8dce4" font-family="Liberation Sans, sans-serif" textLength="24.2" lengthAdjust="spacingAndGlyphs">68.9 dB</text></g>
<g><rect x="614" y="387" width="148.5" height="67.4" fill="rgba(33,51,72,0.88)"/><rect x="614" y="454.4" width="149" height="1.8" fill="#0a0a0a"/><path d="M614.1,454 V387.1 H762.4 V454" fill="none" stroke="#c4c8cc" stroke-width="2"/><path d="M619.7,430.8 L639.2,393.2 L648.6,393.2 L666,430.8 L658.8,430.8 L655.1,422.8 L631.8,422.8 L627.7,430.8 Z M643.6,399.2 L645.2,399.2 L652.3,416.2 L635.2,416.2 Z" fill="#dc2129" fill-rule="evenodd" stroke="#12141c" stroke-opacity="0.75" stroke-width="1.1" paint-order="stroke"/><path d="M650.4,393.2 L657.8,393.2 L684.5,441 L702,410.2 L709.6,408.4 L688.2,449.2 L678.6,449.2 Z" fill="#dc2129" stroke="#12141c" stroke-opacity="0.75" stroke-width="1.1" paint-order="stroke"/><path d="M649.5,393.2 L667.2,430.8" stroke="#1a1e2a" stroke-width="1.2"/><path d="M674.5,416.9 L711.4,416.6 L711.9,412.9 L713,400.5 L714.5,396.8 L716.1,401.5 L717.7,411.9 L719.2,422.3 L721.3,429 L723.4,418.1 L724.9,409.3 L726.5,421.2 L728,417.1 L729.6,410.3 L731.2,419.2 L732.7,421.2 L734.8,412.9 L736.9,401.5 L737.6,399.9 L739.5,406.7 L741.5,417.1 L742.8,421.7 L744.1,416 L745.7,409.3 L747.2,415 L748.3,416.9 L756.6,416.9" fill="none" stroke="#d2d6da" stroke-width="1.3" stroke-linejoin="round"/><path d="M621.1,449.2 V433.8 L636.6,448.6 V433.2 M644.7,433.2 V449.2 M653.6,449.2 V434.3 H664.2 A3.9,3.9 0 0 1 664.2,442.1 H653.6 M662.4,442.1 L668.8,449.2 M693,449.2 L701,434 L709.2,449.2 M696.4,443.8 H705.8 M715.9,449.2 V433.8 L730.9,448.6 V433.2 M738.7,449.2 L746.6,434 L754.5,449.2 M742.1,443.8 H751.3" fill="none" stroke="#2f80d8" stroke-width="2.6" stroke-linejoin="miter"/></g>
</svg>
</body></html>
